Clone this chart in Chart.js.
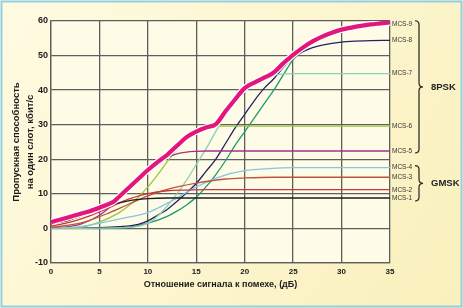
<!DOCTYPE html>
<html>
<head>
<meta charset="utf-8">
<script src="https://cdn.jsdelivr.net/npm/chart.js@4"></script>
<style>
  html, body { margin: 0; padding: 0; background: #fdf7d2; }
  canvas { display: block; }
</style>
</head>
<body>
<canvas id="chart" width="463" height="308"></canvas>
<script>
// signal to noise ratio (dB) / throughput per slot (kbit/s)
var snr1 = [0, 2, 4, 6, 8, 10, 12, 35];
var mcs1 = [1.2, 2.5, 4.5, 6.6, 8.0, 8.6, 8.8, 8.8];

var snr2 = [0, 2, 4, 6, 8, 10, 12, 14, 16, 35];
var mcs2 = [0.7, 1.8, 3.6, 6.0, 8.5, 10.1, 10.9, 11.1, 11.2, 11.2];

var snr3 = [0, 3, 6, 8, 10, 12, 15, 18, 20, 23, 35];
var mcs3 = [0.3, 1.5, 4.5, 7.0, 9.4, 11.3, 13.1, 14.3, 14.6, 14.8, 14.8];

var snr4 = [0, 3, 5, 7.5, 10, 12.5, 15, 17.5, 20, 22.5, 25, 35];
var mcs4 = [0, 0.5, 1.5, 3.0, 4.6, 8.0, 12.0, 15.0, 16.7, 17.3, 17.6, 17.6];

var snr5 = [0, 2, 3, 4, 5, 6, 7, 8, 9, 10, 11, 12, 13, 14, 15, 16, 35];
var mcs5 = [0, 0.6, 1.2, 2.3, 3.8, 6.0, 8.6, 11.2, 13.9, 16.5, 18.8, 20.6, 21.6, 22.1, 22.3, 22.4, 22.4];

var snr6 = [0, 3, 5, 7, 8, 9, 10, 11, 12, 13, 14, 15, 16, 17, 35];
var mcs6 = [0, 0.3, 1.8, 4.5, 6.5, 9.0, 12.0, 15.5, 19.3, 22.8, 25.8, 27.9, 29.2, 29.6, 29.6];

var snr7 = [0, 8, 10, 11, 12, 13, 14, 15, 16, 17, 18, 19, 20, 21, 22, 23, 24, 25, 35];
var mcs7 = [0, 0.3, 1.5, 3.5, 6.5, 10.0, 14.0, 18.5, 23.0, 28.0, 32.8, 36.6, 39.7, 41.8, 43.3, 44.3, 44.7, 44.8, 44.8];

var snr8 = [0, 5, 7, 9, 10, 11, 12, 13, 14, 15, 16, 17, 18, 19, 20, 21, 22, 23, 24, 25, 26, 27, 28, 29, 30, 31, 33, 35];
var mcs8 = [0, 0.2, 0.5, 1.2, 2.2, 3.8, 5.5, 7.8, 10.3, 13.0, 16.5, 20.0, 24.5, 29.0, 33.0, 37.0, 40.5, 43.3, 46.6, 49.3, 51.1, 52.3, 53.0, 53.5, 53.9, 54.1, 54.3, 54.4];

var snr9 = [0, 5, 8, 10, 12, 13, 14, 15, 16, 17, 18, 19, 20, 21, 22, 23, 24, 25, 26, 27, 28, 29, 30, 32, 35];
var mcs9 = [0, 0, 0.3, 1.5, 3.5, 5.0, 6.8, 9.0, 12.0, 15.5, 19.5, 24.0, 28.0, 32.0, 36.0, 40.0, 44.5, 48.8, 51.6, 53.7, 55.2, 56.4, 57.3, 58.4, 59.2];

// upper envelope (link adaptation)
var snrEnv = [0, 1, 2, 3, 4, 5, 6, 6.5, 7, 8, 9, 10, 11, 12, 13, 14, 15, 16, 17, 18, 19, 20, 21, 22, 23, 24, 25, 26, 27, 28, 29, 30, 31, 32, 33, 34, 35];
var envelope = [1.8, 2.6, 3.4, 4.2, 5.0, 6.0, 7.1, 7.8, 9.1, 11.7, 14.3, 16.9, 19.2, 21.3, 23.9, 26.4, 28.0, 29.2, 30.1, 33.8, 37.3, 40.6, 42.2, 43.6, 45.1, 47.8, 50.2, 52.3, 54.1, 55.5, 56.6, 57.5, 58.1, 58.6, 59.0, 59.3, 59.6];

var xTicks = [0, 5, 10, 15, 20, 25, 30, 35];
var yTicks = [-10, 0, 10, 20, 30, 40, 50, 60];

var seriesNames = ['MCS-1', 'MCS-2', 'MCS-3', 'MCS-4', 'MCS-5', 'MCS-6', 'MCS-7', 'MCS-8', 'MCS-9'];
var seriesX = [snr1, snr2, snr3, snr4, snr5, snr6, snr7, snr8, snr9];
var seriesY = [mcs1, mcs2, mcs3, mcs4, mcs5, mcs6, mcs7, mcs8, mcs9];
var seriesColors = ['#1c1c1c', '#c8373b', '#b8553f', '#86c5e3', '#a3338a', '#9cc43f', '#8fd0b4', '#232266', '#1d9b6c'];

function toPoints(xs, ys) {
    var pts = [];
    for (var i = 0; i < xs.length; i++) pts.push({x: xs[i], y: ys[i]});
    return pts;
}

var datasets = [];
for (var i = 0; i < seriesNames.length; i++) {
    datasets.push({
        label: seriesNames[i],
        data: toPoints(seriesX[i], seriesY[i]),
        borderColor: seriesColors[i],
        borderWidth: 1.3,
        cubicInterpolationMode: 'monotone',
        pointRadius: 0,
        fill: false,
        order: 2
    });
}
// lower order is drawn on top
datasets.push({
    label: 'envelope-edge',
    data: toPoints(snrEnv, envelope),
    borderColor: '#ffffff',
    borderWidth: 6.5,
    cubicInterpolationMode: 'monotone',
    pointRadius: 0,
    order: 1
});
datasets.push({
    label: 'envelope',
    data: toPoints(snrEnv, envelope),
    borderColor: '#e4157c',
    borderWidth: 4.2,
    cubicInterpolationMode: 'monotone',
    pointRadius: 0,
    order: 0
});

function drawBrace(ctx, x, y1, y2) {
    var ym = (y1 + y2) / 2;
    ctx.beginPath();
    ctx.moveTo(x - 4, y1);
    ctx.quadraticCurveTo(x, y1, x, y1 + 4);
    ctx.lineTo(x, ym - 4);
    ctx.quadraticCurveTo(x, ym, x + 4, ym);
    ctx.quadraticCurveTo(x, ym, x, ym + 4);
    ctx.lineTo(x, y2 - 4);
    ctx.quadraticCurveTo(x, y2, x - 4, y2);
    ctx.stroke();
    return ym;
}

var decor = {
    id: 'decor',
    beforeDraw: function(chart) {
        var ctx = chart.ctx, a = chart.chartArea;
        ctx.save();
        var g = ctx.createLinearGradient(0, 0, chart.width, chart.height);
        g.addColorStop(0, '#fffbe2');
        g.addColorStop(1, '#faf0bc');
        ctx.fillStyle = g;
        ctx.fillRect(0, 0, chart.width, chart.height);
        ctx.strokeStyle = '#92d0e6';
        ctx.lineWidth = 2;
        ctx.strokeRect(1.5, 1.5, chart.width - 3, chart.height - 3);
        ctx.fillStyle = '#fefce7';
        ctx.fillRect(a.left, a.top, a.right - a.left, a.bottom - a.top);
        ctx.restore();
    },
    afterDraw: function(chart) {
        var ctx = chart.ctx, ys = chart.scales.y, a = chart.chartArea;
        var lx = a.right + 2;
        var labelY = [];
        ctx.save();
        ctx.fillStyle = '#333';
        ctx.font = '6.5px "Liberation Sans", Arial, sans-serif';
        ctx.textBaseline = 'middle';
        for (var i = 0; i < seriesNames.length; i++) {
            var yv = seriesY[i][seriesY[i].length - 1];
            var py = ys.getPixelForValue(yv);
            labelY.push(py);
            ctx.fillText(seriesNames[i], lx, py);
        }
        ctx.strokeStyle = '#222';
        ctx.lineWidth = 1.2;
        var bx = 419;
        var m1 = drawBrace(ctx, bx, labelY[8] - 3, labelY[4] + 2);
        var m2 = drawBrace(ctx, bx, labelY[3] - 2, labelY[0] + 3);
        ctx.fillStyle = '#222';
        ctx.font = 'bold 9.5px "Liberation Sans", Arial, sans-serif';
        ctx.fillText('8PSK', 431, m1);
        ctx.fillText('GMSK', 431, m2);
        ctx.restore();
    }
};

var gridColor = '#5e5e5e';
var tickFont = {family: '"Liberation Sans", Arial, sans-serif', weight: 'bold', size: 9};

new Chart(document.getElementById('chart'), {
    type: 'line',
    data: { datasets: datasets },
    options: {
        responsive: false,
        animation: false,
        layout: { padding: { left: 0, right: 73, top: 21, bottom: 0 } },
        plugins: { legend: { display: false }, tooltip: { enabled: false } },
        scales: {
            x: {
                type: 'linear',
                min: 0, max: 35,
                afterBuildTicks: function(s) { s.ticks = xTicks.map(function(v) { return {value: v}; }); },
                afterFit: function(s) { s.height = 45; },
                grid: { color: gridColor, lineWidth: 1.3, drawTicks: false },
                border: { color: gridColor, width: 1.3 },
                ticks: { font: {family: tickFont.family, weight: 'bold', size: 8}, color: '#1a1a1a', padding: 4, maxRotation: 0 },
                title: {
                    display: true,
                    text: 'Отношение сигнала к помехе, (дБ)',
                    font: {family: tickFont.family, weight: 'bold', size: 9},
                    color: '#1a1a1a',
                    padding: { top: 0, bottom: 18 }
                }
            },
            y: {
                min: -10, max: 60,
                afterBuildTicks: function(s) { s.ticks = yTicks.map(function(v) { return {value: v}; }); },
                afterFit: function(s) { s.width = 51; },
                grid: { color: gridColor, lineWidth: 1.3, drawTicks: false },
                border: { color: gridColor, width: 1.3 },
                ticks: { font: tickFont, color: '#1a1a1a', padding: 3 },
                title: {
                    display: true,
                    text: ['Пропускная способность', 'на один слот, кбит/с'],
                    font: {family: tickFont.family, weight: 'bold', size: 9.5, lineHeight: 1.4},
                    color: '#1a1a1a',
                    padding: { top: 10, bottom: 0 }
                }
            }
        }
    },
    plugins: [decor]
});
</script>
</body>
</html>
